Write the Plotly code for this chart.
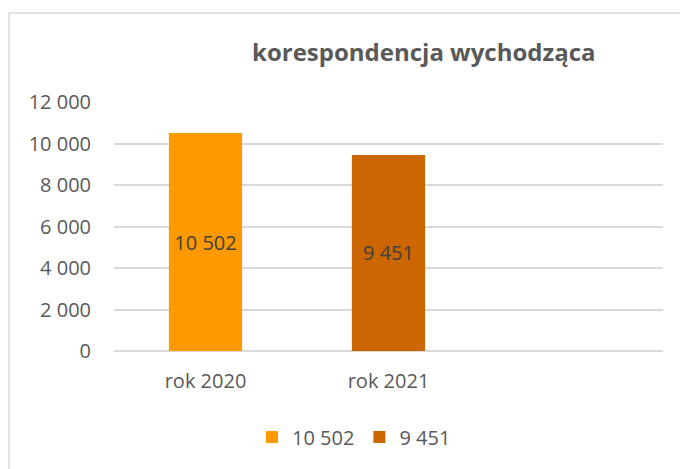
import plotly.graph_objects as go

categories = ["rok 2020", "rok 2021", " "]
series_names = ["10 502", "9 451"]
series_values = [10502, 9451]
colors = ["#FF9900", "#CC6600"]
title_text = "korespondencja wychodząca"

FONT = "Open Sans"
OFF = 8  # page body margin
fig = go.Figure()
for i, (name, val) in enumerate(zip(series_names, series_values)):
    fig.add_trace(go.Bar(
        x=[categories[i]], y=[val], name=name,
        marker=dict(color=colors[i], line=dict(width=0)),
        width=0.4,
        texttemplate="%{y:,d}", textposition="inside",
        insidetextanchor="middle",
        textfont=dict(family=FONT, size=20, color="#404040"),
    ))

W, H = 688 - OFF, 469 - OFF
ml, mr, mt, mb = 114 - OFF, 25, 102 - OFF, 118
pw, ph = W - ml - mr, H - mt - mb

def px(x):
    return (x - OFF - ml) / pw

def py(y):
    return (H - mb - (y - OFF)) / ph

fig.update_layout(
    width=W, height=H,
    margin=dict(l=ml, r=mr, t=mt, b=mb, pad=0),
    paper_bgcolor="white", plot_bgcolor="white",
    barmode="overlay",
    separators=", ",
    font=dict(family=FONT, size=20, color="#595959"),
    showlegend=True,
    legend=dict(orientation="h", x=px(354), xanchor="center", y=py(437), yanchor="middle",
                font=dict(family=FONT, size=20, color="#595959"), itemwidth=30,
                traceorder="normal"),
    xaxis=dict(type="category", categoryorder="array", categoryarray=categories,
               range=[-0.5, 2.5], showgrid=False, zeroline=False, showline=False,
               ticks="", ticklabelstandoff=16,
               tickfont=dict(family=FONT, size=20, color="#595959")),
    yaxis=dict(range=[0, 12000], tickvals=[0, 2000, 4000, 6000, 8000, 10000, 12000],
               tickformat=",d", showgrid=True, gridcolor="#D9D9D9", gridwidth=1.5,
               zeroline=True, zerolinecolor="#D9D9D9", zerolinewidth=1.5,
               showline=False, ticks="", ticklabelstandoff=22,
               tickfont=dict(family=FONT, size=20, color="#595959")),
    shapes=[dict(type="rect", xref="paper", yref="paper",
                 x0=px(9), x1=px(700), y0=py(480), y1=py(13),
                 line=dict(color="#D9D9D9", width=1.5), fillcolor="rgba(0,0,0,0)",
                 layer="below")],
    annotations=[dict(text="<b>" + title_text + "</b>", xref="paper", yref="paper",
                      x=px(424), y=py(52), xanchor="center", yanchor="middle",
                      showarrow=False,
                      font=dict(family=FONT, size=24, color="#595959"))],
)

fig.write_html("out.html")
